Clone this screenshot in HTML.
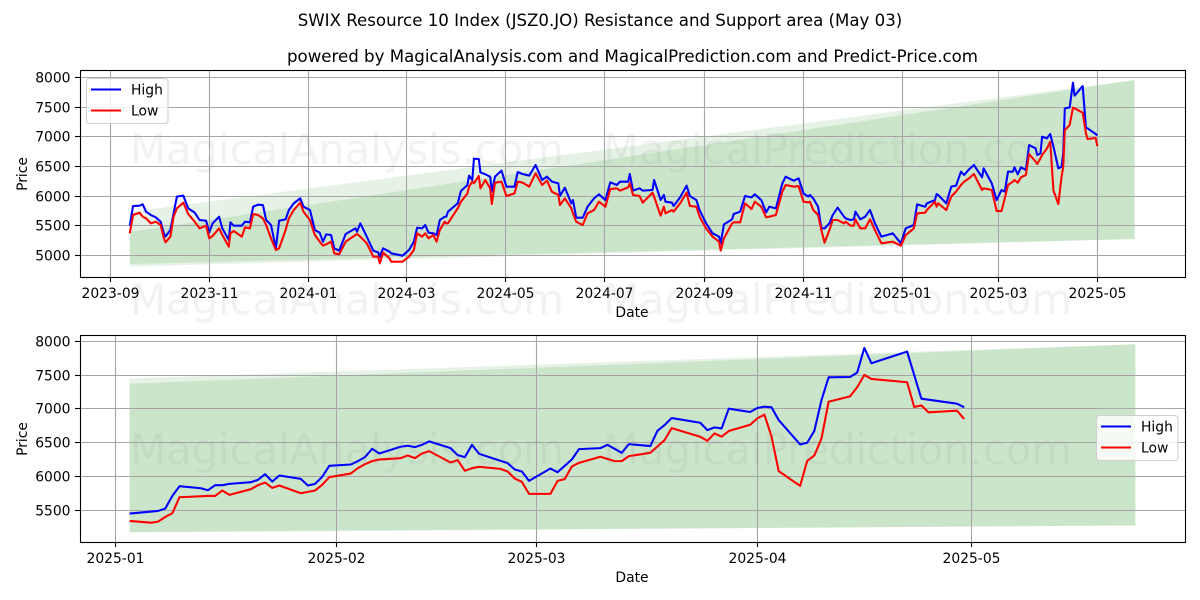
<!DOCTYPE html>
<html lang="en">
<head>
<meta charset="utf-8">
<title>SWIX Resource 10 Index Resistance and Support area</title>
<style>
html,body{margin:0;padding:0;background:#fff;}
body{width:1200px;height:600px;overflow:hidden;}
svg{display:block;}
text{font-family:"DejaVu Sans","Liberation Sans",sans-serif;fill:#000;}
.tick{font-size:13.89px;}
.wm{font-size:41.67px;fill:#808080;fill-opacity:.1;}
</style>
</head>
<body>
<svg id="chart" xmlns="http://www.w3.org/2000/svg" width="1200" height="600" viewBox="0 0 1200 600">
<rect x="0" y="0" width="1200" height="600" fill="#fff"/>
<g id="top-layer"></g>
<g id="bottom-layer"></g>
<text x="600" y="26" text-anchor="middle" font-size="16.62">SWIX Resource 10 Index (JSZ0.JO) Resistance and Support area (May 03)</text>
<text x="632.5" y="62" text-anchor="middle" font-size="16.64">powered by MagicalAnalysis.com and MagicalPrediction.com and Predict-Price.com</text>
<text class="tick" x="632" y="317" text-anchor="middle">Date</text>
<text class="tick" x="632" y="582" text-anchor="middle">Date</text>
<text class="tick" transform="translate(27,174) rotate(-90)" text-anchor="middle">Price</text>
<text class="tick" transform="translate(27,439) rotate(-90)" text-anchor="middle">Price</text>
<text class="wm" x="130" y="164" textLength="434" lengthAdjust="spacingAndGlyphs">MagicalAnalysis.com</text>
<text class="wm" x="603" y="164" textLength="469" lengthAdjust="spacingAndGlyphs">MagicalPrediction.com</text>
<text class="wm" x="130" y="314" textLength="434" lengthAdjust="spacingAndGlyphs">MagicalAnalysis.com</text>
<text class="wm" x="603" y="314" textLength="469" lengthAdjust="spacingAndGlyphs">MagicalPrediction.com</text>
<text class="wm" x="130" y="464" textLength="434" lengthAdjust="spacingAndGlyphs">MagicalAnalysis.com</text>
<text class="wm" x="603" y="464" textLength="469" lengthAdjust="spacingAndGlyphs">MagicalPrediction.com</text>
</svg>
<script>
// History panel: trading day offsets counted from 2023-09-01
const historyDays = [12,14,18,20,22,25,28,31,33,34,37,39,41,45,48,52,55,59,61,63,67,69,73,74,76,81,83,86,88,91,94,96,99,102,104,108,110,113,117,119,123,126,129,131,133,136,138,141,145,151,152,154,158,162,165,166,168,172,173,180,184,187,189,192,194,196,199,201,203,206,207,208,214,216,220,221,223,224,227,228,231,234,235,237,241,244,249,251,254,258,262,266,269,272,276,277,280,284,285,287,291,294,298,301,305,308,312,314,319,320,322,326,328,334,335,339,341,342,346,347,351,355,357,361,363,367,371,375,376,378,383,384,388,391,395,397,401,404,406,410,414,416,421,424,427,430,431,433,436,438,440,443,445,448,452,453,456,458,459,462,465,468,471,475,482,487,490,495,497,502,503,508,509,510,515,518,521,524,526,529,532,537,538,543,546,549,551,553,556,557,559,561,564,566,570,571,573,574,577,579,581,584,586,587,588,591,593,594,599,601,602,607,608];
const historyHigh = [5505,5836,5841,5864,5740,5684,5645,5572,5376,5320,5432,5712,5993,6009,5796,5724,5600,5589,5393,5544,5656,5460,5264,5561,5505,5505,5572,5561,5824,5858,5852,5600,5516,5124,5589,5611,5768,5880,5964,5824,5768,5432,5387,5236,5359,5348,5124,5085,5365,5460,5404,5544,5320,5085,5056,4984,5124,5068,5040,5000,5096,5236,5471,5460,5516,5387,5376,5348,5600,5656,5656,5740,5880,6088,6189,6346,6273,6631,6626,6402,6368,6329,6077,6329,6430,6161,6161,6407,6374,6346,6525,6273,6329,6245,6217,6004,6144,5880,5936,5639,5639,5824,5964,6032,5936,6234,6189,6245,6245,6374,6094,6133,6094,6105,6273,5936,6021,5908,5892,5836,5981,6178,6004,5936,5768,5544,5376,5320,5208,5527,5611,5701,5740,6004,5981,6032,5936,5729,5824,5796,6217,6329,6262,6301,6048,5993,6021,5964,5824,5460,5460,5544,5684,5808,5656,5628,5600,5611,5740,5611,5656,5768,5544,5320,5376,5208,5460,5516,5864,5824,5880,5936,6037,6021,5880,6161,6178,6413,6357,6452,6525,6318,6469,6217,5936,6105,6077,6413,6413,6486,6368,6486,6441,6861,6805,6693,6721,7001,6973,7046,6833,6469,6497,6721,7478,7495,7909,7691,7853,7153,7142,7046,7024];
const historyLow = [5376,5684,5723,5656,5628,5544,5572,5516,5292,5225,5320,5656,5796,5892,5701,5572,5460,5505,5292,5331,5460,5348,5152,5376,5415,5320,5477,5460,5701,5684,5628,5516,5292,5096,5124,5432,5628,5768,5892,5740,5600,5348,5236,5169,5191,5236,5040,5023,5236,5348,5365,5320,5208,4984,4984,4872,5051,4956,4900,4900,4984,5096,5376,5320,5376,5292,5348,5236,5432,5572,5544,5544,5796,5908,6048,6161,6245,6217,6340,6133,6273,6133,5869,6228,6245,6004,6048,6245,6228,6161,6385,6189,6262,6077,6021,5852,5964,5796,5712,5572,5516,5712,5768,5908,5824,6121,6133,6094,6149,6217,6021,6004,5892,6060,5993,5673,5824,5712,5768,5740,5880,6060,5836,5824,5656,5460,5320,5236,5085,5292,5544,5561,5561,5880,5785,5908,5824,5645,5656,5684,6077,6189,6161,6172,5908,5897,5908,5768,5684,5432,5219,5432,5600,5600,5544,5572,5505,5505,5611,5460,5460,5611,5432,5208,5236,5169,5348,5460,5712,5723,5768,5908,5824,5880,5768,5993,6077,6189,6245,6301,6374,6105,6133,6105,5751,5751,5964,6189,6245,6273,6228,6318,6357,6710,6581,6542,6637,6693,6805,6917,6094,5869,6329,6497,7113,7198,7489,7478,7405,7057,6962,6979,6844];

// Recent panel: trading day offsets counted from 2025-01-01
const recentHighDays = [2,6,7,8,9,12,13,14,15,16,19,20,21,22,23,26,27,28,29,30,33,34,35,36,37,40,41,42,43,44,47,48,49,50,51,55,56,57,58,61,62,64,65,68,69,71,72,75,76,77,78,82,83,84,85,86,89,90,91,92,93,96,97,98,99,100,103,104,105,106,111,113,118,119];
const recentHigh = [5456,5495,5530,5717,5860,5830,5801,5875,5875,5894,5919,5954,6037,5929,6018,5968,5870,5894,5998,6161,6180,6230,6289,6412,6343,6442,6457,6437,6471,6521,6422,6319,6289,6471,6338,6200,6107,6077,5939,6121,6067,6254,6407,6422,6471,6353,6481,6452,6678,6762,6866,6797,6688,6728,6713,7004,6955,7014,7034,7024,6836,6476,6501,6678,7132,7467,7472,7536,7901,7675,7847,7152,7078,7024];
const recentLowDays = [2,5,6,7,8,9,13,14,15,16,19,20,21,22,23,26,28,29,30,33,34,35,36,37,40,41,42,43,44,47,48,49,50,51,54,55,56,57,58,61,62,63,64,65,68,70,71,72,75,77,78,82,83,84,85,86,89,90,91,92,93,96,97,98,99,100,103,104,105,106,111,112,113,114,118,119];
const recentLow = [5347,5322,5337,5406,5461,5697,5717,5717,5796,5732,5816,5875,5914,5835,5870,5756,5796,5880,5993,6047,6126,6185,6230,6254,6274,6314,6274,6343,6378,6210,6245,6087,6126,6146,6116,6077,5973,5924,5747,5747,5939,5964,6151,6205,6294,6230,6230,6304,6353,6540,6718,6590,6530,6639,6590,6674,6767,6861,6915,6590,6082,5865,6235,6314,6565,7107,7186,7320,7502,7443,7394,7029,7053,6950,6975,6851];

// Forecast bands
const historyBandDates = ['2023-09-13','2025-05-24'];
const historyOuterUpper = [5735,7955];
const historyOuterLower = [4818,5281];
const historyInnerUpper = [5399,7955];
const historyInnerLower = [4860,5281];
const recentBandDates = ['2025-01-03','2025-05-24'];
const recentOuterUpper = [7449,7955];
const recentOuterLower = [5175,5281];
const recentInnerUpper = [7373,7955];
const recentInnerLower = [5185,5281];

// Tick labels
const historyXTicks = ['2023-09','2023-11','2024-01','2024-03','2024-05','2024-07','2024-09','2024-11','2025-01','2025-03','2025-05'];
const historyYTicks = [5000,5500,6000,6500,7000,7500,8000];
const recentXTicks = ['2025-01','2025-02','2025-03','2025-04','2025-05'];
const recentYTicks = [5500,6000,6500,7000,7500,8000];

const NS = 'http://www.w3.org/2000/svg';
const DAY = 86400000;
function parseDay(s){ return Date.parse(s + 'T00:00:00Z') / DAY; }
function linear(d0, d1, r0, r1){ return v => r0 + (v - d0) * (r1 - r0) / (d1 - d0); }
function make(parent, tag, attrs, txt){
  const el = document.createElementNS(NS, tag);
  for (const k in attrs) el.setAttribute(k, attrs[k]);
  if (txt !== undefined) el.textContent = txt;
  parent.appendChild(el);
  return el;
}
function linePoints(days, vals, x, y, origin){
  return days.map((d, i) => x(origin + d).toFixed(2) + ',' + y(vals[i]).toFixed(2)).join(' ');
}
function bandPoints(dates, upper, lower, x, y){
  const a = dates.map((d, i) => x(parseDay(d)).toFixed(2) + ',' + y(upper[i]).toFixed(2));
  const b = dates.map((d, i) => x(parseDay(d)).toFixed(2) + ',' + y(lower[i]).toFixed(2)).reverse();
  return a.concat(b).join(' ');
}

function drawPanel(cfg){
  const g = document.getElementById(cfg.layer);
  const L = 80, R = 1185.5, T = cfg.top, B = cfg.bottom;
  const x = cfg.x, y = cfg.y;
  const clipId = cfg.layer + '-clip';
  const defs = make(g, 'defs', {});
  const clip = make(defs, 'clipPath', {id: clipId});
  make(clip, 'rect', {x: L, y: T, width: R - L, height: B - T});

  const outer = make(g, 'polygon', {points: bandPoints(cfg.bandDates, cfg.outerUpper, cfg.outerLower, x, y), fill: 'green', 'fill-opacity': 0.1});
  
  
  const inner = make(g, 'polygon', {points: bandPoints(cfg.bandDates, cfg.innerUpper, cfg.innerLower, x, y), fill: 'green', 'fill-opacity': 0.11});
  
  

  cfg.xTicks.forEach(t => {
    const px = Math.round(x(parseDay(t + '-01'))) + 0.5;
    const grid = make(g, 'line', {x1: px, x2: px, y1: T, y2: B, stroke: '#a6a6a6', 'stroke-width': 1.1});
    
    
    const mark = make(g, 'line', {x1: px, x2: px, y1: B, y2: B + 5, stroke: '#000', 'stroke-width': 1.1});
    
    
    const label = make(g, 'text', {x: px, y: B + 21, 'text-anchor': 'middle', class: 'tick'}, t);
    
    
  });
  cfg.yTicks.forEach(t => {
    const py = Math.floor(y(t)) + 0.5;
    const grid = make(g, 'line', {x1: L, x2: R, y1: py, y2: py, stroke: '#a6a6a6', 'stroke-width': 1.1});
    
    
    const mark = make(g, 'line', {x1: L - 5, x2: L, y1: py, y2: py, stroke: '#000', 'stroke-width': 1.1});
    
    
    const label = make(g, 'text', {x: 70.5, y: py + 5, 'text-anchor': 'end', class: 'tick'}, String(t));
    
    
  });

  const high = make(g, 'polyline', {points: linePoints(cfg.highDays, cfg.high, x, y, cfg.origin), fill: 'none', stroke: '#0000ff', 'stroke-width': 2.08, 'stroke-linejoin': 'round', 'clip-path': 'url(#' + clipId + ')'});
  
  
  const low = make(g, 'polyline', {points: linePoints(cfg.lowDays, cfg.low, x, y, cfg.origin), fill: 'none', stroke: '#ff0000', 'stroke-width': 2.08, 'stroke-linejoin': 'round', 'clip-path': 'url(#' + clipId + ')'});
  
  

  const frame = make(g, 'rect', {x: L + 0.5, y: T + 0.5, width: R - L - 0.5, height: B - T, fill: 'none', stroke: '#000', 'stroke-width': 1.1});
  
  

  const lg = make(g, 'g', {});
  
  
  const lx = cfg.legendX, ly = cfg.legendY;
  const box = make(lg, 'rect', {x: lx + 0.5, y: ly + 0.5, width: 81.5, height: 45, rx: 3, fill: '#fff', 'fill-opacity': 0.8, stroke: '#d0d0d0', 'stroke-width': 1.1});
  
  
  const hl = make(lg, 'line', {x1: lx + 5, x2: lx + 35, y1: ly + 11.5, y2: ly + 11.5, stroke: '#0000ff', 'stroke-width': 2.08});
  
  
  const ht = make(lg, 'text', {x: lx + 45, y: ly + 16.5, class: 'tick'}, 'High');
  
  
  const ll = make(lg, 'line', {x1: lx + 5, x2: lx + 35, y1: ly + 32.5, y2: ly + 32.5, stroke: '#ff0000', 'stroke-width': 2.08});
  
  
  const lt = make(lg, 'text', {x: lx + 45, y: ly + 37.5, class: 'tick'}, 'Low');
  
  
}

const historyStart = parseDay('2023-09-01');
const recentStart = parseDay('2025-01-01');
drawPanel({
  layer: 'top-layer', top: 70, bottom: 277,
  x: linear(historyStart, parseDay('2025-05-01'), 110.3, 1097.3),
  y: linear(5000, 8000, 255.7, 77.3),
  origin: historyStart,
  bandDates: historyBandDates, outerUpper: historyOuterUpper, outerLower: historyOuterLower, innerUpper: historyInnerUpper, innerLower: historyInnerLower,
  xTicks: historyXTicks, yTicks: historyYTicks,
  highDays: historyDays, high: historyHigh, lowDays: historyDays, low: historyLow,
  legendX: 86, legendY: 78
});
drawPanel({
  layer: 'bottom-layer', top: 335, bottom: 542,
  x: linear(recentStart, parseDay('2025-05-01'), 115.3, 971.3),
  y: linear(5500, 8000, 510.6, 341.2),
  origin: recentStart,
  bandDates: recentBandDates, outerUpper: recentOuterUpper, outerLower: recentOuterLower, innerUpper: recentInnerUpper, innerLower: recentInnerLower,
  xTicks: recentXTicks, yTicks: recentYTicks,
  highDays: recentHighDays, high: recentHigh, lowDays: recentLowDays, low: recentLow,
  legendX: 1096, legendY: 415
});
</script>
</body>
</html>
